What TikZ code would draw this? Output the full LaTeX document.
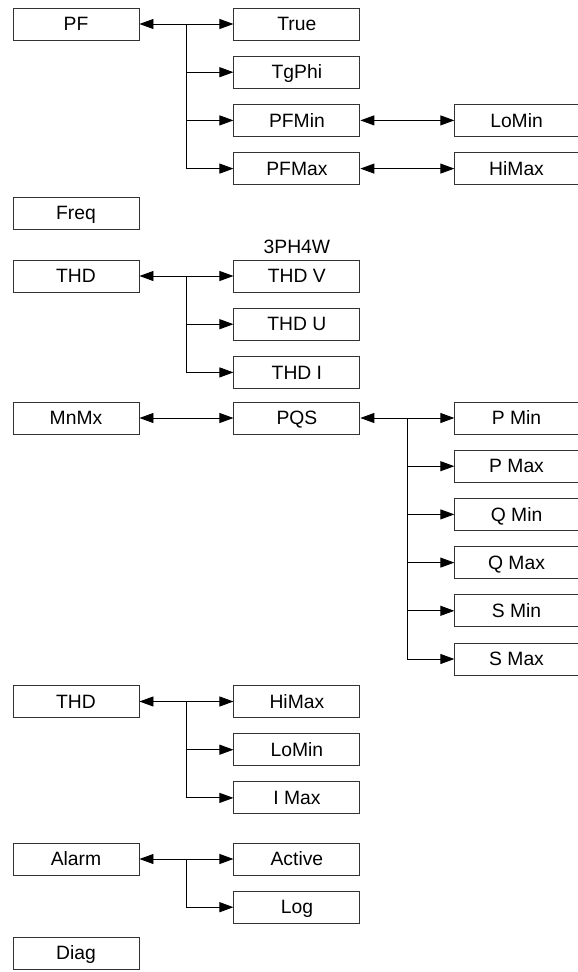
\documentclass[tikz,border=0pt]{standalone}
\usepackage{fontspec}
\setmainfont{Liberation Sans}
\usepackage{tikz}
\usetikzlibrary{arrows.meta,positioning}

\begin{document}
\begin{tikzpicture}[
x=1pt, y=-1pt,
node distance=15.3pt and 94pt,
box/.style={draw=black!80, line width=0.9pt, minimum width=126pt, minimum height=32pt, inner sep=0pt, text height=13.5pt, text depth=0pt, align=center, font=\fontsize{19.3}{22}\selectfont},
endbox/.style={box, minimum width=123.5pt},
note/.style={inner sep=0pt, font=\fontsize{19.3}{22}\selectfont},
arrow/.style={-{Triangle[length=14pt, width=10pt]}, line width=0.9pt},
dual/.style={{Triangle[length=14pt, width=10pt]}-{Triangle[length=14pt, width=10pt]}, line width=0.9pt}
]
\useasboundingbox (0,0) rectangle (578,972);
% left column
\node[box] (pf) at (76,24) {PF};
\node[box] (freq) at (76,213) {Freq};
\node[box] (thd) at (76,276) {THD};
\node[box] (mnmx) at (76,418) {MnMx};
\node[box] (thdb) at (76,701.5) {THD};
\node[box] (alarm) at (76,859) {Alarm};
\node[box] (diag) at (76,953) {Diag};
% PF
\node[box, right=of pf] (true) {True};
\node[box, below=of true] (tgphi) {TgPhi};
\node[box, below=of tgphi] (pfmin) {PFMin};
\node[box, below=of pfmin] (pfmax) {PFMax};
\node[endbox, right=of pfmin] (lomin) {LoMin};
\node[endbox, right=of pfmax] (himax) {HiMax};
% THD
\node[box, right=of thd] (thdv) {THD V};
\node[box, below=of thdv] (thdu) {THD U};
\node[box, below=of thdu] (thdi) {THD I};
\node[note, above=6pt of thdv] (wiring) {3PH4W};
% MnMx
\node[box, right=of mnmx] (pqs) {PQS};
\node[endbox, right=of pqs] (pmin) {P Min};
\node[endbox, below=of pmin] (pmax) {P Max};
\node[endbox, below=of pmax] (qmin) {Q Min};
\node[endbox, below=of qmin] (qmax) {Q Max};
\node[endbox, below=of qmax] (smin) {S Min};
\node[endbox, below=of smin] (smax) {S Max};
% THD min/max
\node[box, right=of thdb] (hmaxb) {HiMax};
\node[box, below=of hmaxb] (lominb) {LoMin};
\node[box, below=of lominb] (imax) {I Max};
% Alarm
\node[box, right=of alarm] (active) {Active};
\node[box, below=of active] (log) {Log};

% split points
\path (pf) -- coordinate[midway] (pfsplit) (true);
\path (thd) -- coordinate[midway] (thdsplit) (thdv);
\path (pqs.east) -- coordinate[midway] (pqssplit) (pmin.west);
\path (thdb) -- coordinate[midway] (thdbsplit) (hmaxb);
\path (alarm) -- coordinate[midway] (alarmsplit) (active);

\draw[dual] (pf) -- (true);
\draw[arrow] (pfsplit) |- (tgphi);
\draw[arrow] (pfsplit) |- (pfmin);
\draw[arrow] (pfsplit) |- (pfmax);
\draw[dual] (pfmin) -- (lomin);
\draw[dual] (pfmax) -- (himax);

\draw[dual] (thd) -- (thdv);
\draw[arrow] (thdsplit) |- (thdu);
\draw[arrow] (thdsplit) |- (thdi);

\draw[dual] (mnmx) -- (pqs);
\draw[dual] (pqs) -- (pmin);
\foreach \n in {pmax,qmin,qmax,smin,smax}
  \draw[arrow] (pqssplit) |- (\n);

\draw[dual] (thdb) -- (hmaxb);
\draw[arrow] (thdbsplit) |- (lominb);
\draw[arrow] (thdbsplit) |- (imax);

\draw[dual] (alarm) -- (active);
\draw[arrow] (alarmsplit) |- (log);
\end{tikzpicture}
\end{document}
